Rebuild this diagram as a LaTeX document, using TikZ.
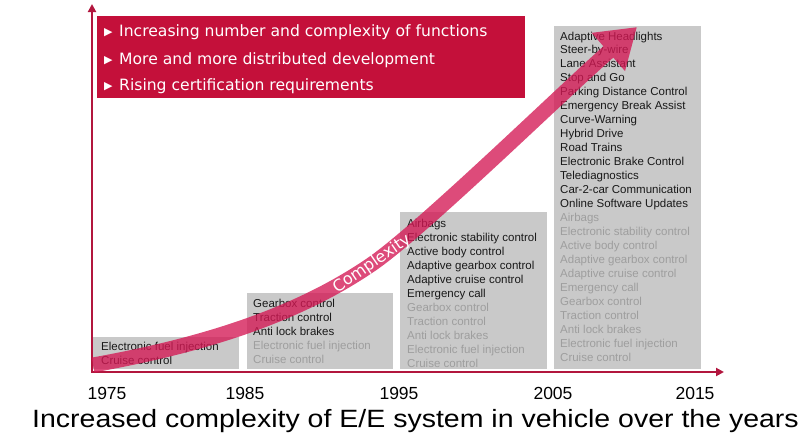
\documentclass[tikz,border=0pt]{standalone}
\usepackage{fontspec}
\setmainfont{Liberation Sans}
\newfontfamily\bulletfont{DejaVu Sans}
\usetikzlibrary{arrows.meta}

\definecolor{headred}{RGB}{196,16,58}
\definecolor{axisred}{RGB}{178,22,62}
\definecolor{bandpink}{RGB}{212,24,84}
\definecolor{boxgray}{RGB}{201,201,201}
\definecolor{oldgray}{RGB}{158,158,158}
\definecolor{newblack}{RGB}{25,25,25}

\tikzset{
  featbox/.style={fill=boxgray},
  newfeat/.style={anchor=base west, inner sep=0pt, text=newblack, font=\fontsize{11.5}{13}\selectfont},
  oldfeat/.style={newfeat, text=oldgray},
  yearlabel/.style={anchor=base, inner sep=0pt, font=\fontsize{17.5}{20}\selectfont},
  headline/.style={anchor=base west, inner sep=0pt, text=white, font=\bulletfont\fontsize{15.6}{18}\selectfont},
  axisline/.style={axisred, line width=2.5pt},
}
\newcommand{\hbullet}{\makebox[15pt][l]{\raisebox{0.5pt}{\fontsize{11}{11}\selectfont ▶}}}

\begin{document}
\begin{tikzpicture}[x=1pt,y=-1pt]
  \useasboundingbox (0,0) rectangle (801,439);

  % gray boxes, one per decade
  \fill[featbox] (93,337) rectangle (239,369);
  \fill[featbox] (247,293) rectangle (393,369);
  \fill[featbox] (400,212) rectangle (547,369);
  \fill[featbox] (554,26) rectangle (701,369);

  % red header
  \fill[headred] (97,16) rectangle (525,98);
  \node[headline] (head1) at (104,36) {\hbullet Increasing number and complexity of functions};
  \node[headline] (head2) at (104,64) {\hbullet More and more distributed development};
  \node[headline] (head3) at (104,90) {\hbullet Rising certification requirements};

  % 1975
  \foreach \t [count=\i] in {Electronic fuel injection, Cruise control}
    \node[newfeat] (ba-\i) at (101,{350+14*(\i-1)}) {\t};
  % 1985
  \foreach \t [count=\i] in {Gearbox control, Traction control, Anti lock brakes}
    \node[newfeat] (bb-\i) at (253,{307+14*(\i-1)}) {\t};
  \foreach \t [count=\i from 4] in {Electronic fuel injection, Cruise control}
    \node[oldfeat] (bb-\i) at (253,{307+14*(\i-1)}) {\t};
  % 1995
  \foreach \t [count=\i] in {Airbags, Electronic stability control, Active body control,
      Adaptive gearbox control, Adaptive cruise control, Emergency call}
    \node[newfeat] (bc-\i) at (407,{227+14*(\i-1)}) {\t};
  \foreach \t [count=\i from 7] in {Gearbox control, Traction control, Anti lock brakes,
      Electronic fuel injection, Cruise control}
    \node[oldfeat] (bc-\i) at (407,{227+14*(\i-1)}) {\t};
  % 2005
  \foreach \t [count=\i] in {Adaptive Headlights, Steer-by-wire, Lane Assistant, Stop and Go,
      Parking Distance Control, Emergency Break Assist, Curve-Warning, Hybrid Drive,
      Road Trains, Electronic Brake Control, Telediagnostics, Car-2-car Communication,
      Online Software Updates}
    \node[newfeat] (bd-\i) at (560,{40+13.96*(\i-1)}) {\t};
  \foreach \t [count=\i from 14] in {Airbags, Electronic stability control, Active body control,
      Adaptive gearbox control, Adaptive cruise control, Emergency call, Gearbox control,
      Traction control, Anti lock brakes, Electronic fuel injection, Cruise control}
    \node[oldfeat] (bd-\i) at (560,{40+13.96*(\i-1)}) {\t};

  % axes
  \coordinate (origin) at (92,372);
  \coordinate (ytip) at (92,4);
  \coordinate (xtip) at (724,372);
  \draw[axisline, {Triangle[length=8pt,width=8pt]}-{Triangle[length=8pt,width=8pt]}]
    (ytip) -- (origin) -- (xtip);

  % complexity arrow
  \coordinate (cstart) at (93,365);
  \coordinate (cmid) at (372,264);
  \coordinate (cend) at (637,27);
  \begin{scope}[transparency group, opacity=0.78]
    \draw[bandpink, line width=15pt, -{Triangle[length=38pt,width=48pt]}]
      (cstart) .. controls (193,347) and (292,319) .. (cmid)
      .. controls (422,229.5) and (567,88) .. (cend);
  \end{scope}
  \node[rotate=34.5, inner sep=0pt, text=white, font=\bulletfont\fontsize{16}{17}\selectfont]
    (cplx) at (cmid) {Complexity};

  % years
  \node[yearlabel] (y1975) at (107,399) {1975};
  \node[yearlabel] (y1985) at (245,399) {1985};
  \node[yearlabel] (y1995) at (399,399) {1995};
  \node[yearlabel] (y2005) at (553,399) {2005};
  \node[yearlabel] (y2015) at (695,399) {2015};

  \node[anchor=base, inner sep=0pt, font=\fontsize{25}{28}\selectfont] (caption) at (415.5,427)
    {\scalebox{1.14}[1]{Increased complexity of E/E system in vehicle over the years}};
\end{tikzpicture}
\end{document}
